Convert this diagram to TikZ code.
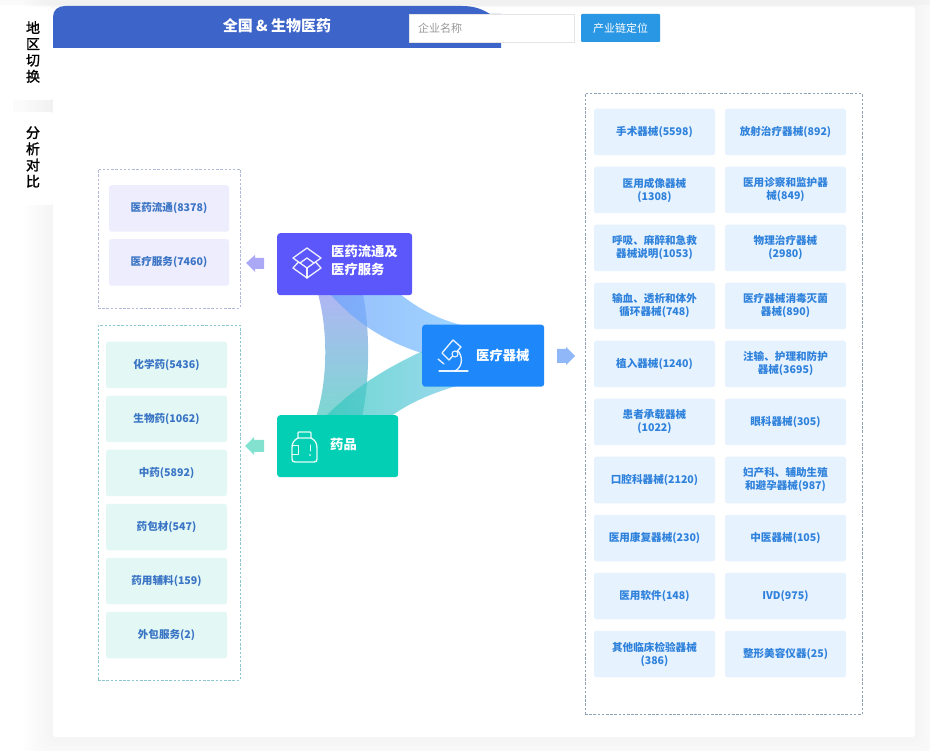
\documentclass[tikz,border=0pt]{standalone}
\usepackage{fontspec}
\setmainfont{Noto Sans CJK SC}
\newfontfamily\tabfont[FakeBold=1.5]{Noto Sans CJK SC}
\usetikzlibrary{calc}
\definecolor{hdr}{HTML}{3D64C8}
\definecolor{btn}{HTML}{2A97E4}
\definecolor{purp}{HTML}{5B57FB}
\definecolor{blu}{HTML}{1E88FB}
\definecolor{grn}{HTML}{02CFB3}
\definecolor{cpurp}{HTML}{EEEDFD}
\definecolor{cgrn}{HTML}{E3F8F5}
\definecolor{cblu}{HTML}{E6F2FE}
\definecolor{tblu}{HTML}{2F82DC}
\definecolor{tdark}{HTML}{3A74C4}
\definecolor{ribA}{HTML}{8F98F0}
\definecolor{ribM}{HTML}{6CB0E4}
\definecolor{ribB}{HTML}{45C8BE}
\definecolor{ribC}{HTML}{6AA2FC}
\definecolor{ribD}{HTML}{78C4FF}
\definecolor{ribE}{HTML}{30C8BC}
\definecolor{ribF}{HTML}{70C8E8}
\definecolor{arrP}{HTML}{ABA8F5}
\definecolor{arrG}{HTML}{82E2CF}
\definecolor{arrB}{HTML}{90B8F8}
\definecolor{dashP}{HTML}{B4B8D8}
\definecolor{dashG}{HTML}{8CC8D0}
\definecolor{dashR}{HTML}{8FA3B8}
\tikzset{
  x=1pt,y=-1pt,
  card/.style={rounded corners=2.5pt,minimum width=121pt,minimum height=46.5pt,inner sep=0pt,align=center,
    font=\fontsize{10.6}{13}\selectfont\bfseries,text=tblu},
  rcard/.style={card,fill=cblu},
  pcard/.style={card,fill=cpurp,text=tdark,minimum width=120pt},
  gcard/.style={card,fill=cgrn,text=tdark},
  main/.style={rounded corners=3pt,inner sep=0pt,anchor=north west},
  lbl/.style={text=white,font=\fontsize{13.3}{18}\selectfont\bfseries,anchor=west,inner sep=0pt,align=left},
  dbox/.style={dashed,dash pattern=on 2.5pt off 1.7pt,line width=.7pt},
  ico/.style={draw=white,line width=1.3pt,line join=round,line cap=round,opacity=.9},
  rib/.style={fill opacity=.7},
  tab/.style={font=\tabfont\fontsize{14}{16.2}\selectfont,text=black,inner sep=0pt,align=center},
}
\begin{document}
\begin{tikzpicture}
\useasboundingbox (0,0) rectangle (930,751);
\fill[white] (0,0) rectangle (930,751);
% soft shadow
\foreach \d in {3,6,...,30}{
  \fill[black,opacity=.005,rounded corners=6pt] (53-\d,7-\d) rectangle (915+\d,737+\d);
}
\fill[black,opacity=.02] (0,0) rectangle (930,5);
\fill[black,opacity=.015] (13,100) rectangle (53,112);
\fill[white,rounded corners=3pt] (53,7) rectangle (915,737);
\fill[white,rounded corners=3pt] (13,7) rectangle (53,100);
\fill[white,rounded corners=3pt] (13,112) rectangle (53,205);
\node[tab] (tabA) at (33,52) {地\\区\\切\\换};
\node[tab] (tabB) at (33,157) {分\\析\\对\\比};
% header
\fill[hdr] (53,48) -- (53,17) .. controls (53,10) and (58,6) .. (65,6) -- (462,6) .. controls (474,6) and (482,9) .. (490,14) -- (501,14) -- (501,48) -- cycle;
\node[text=white,font=\fontsize{15}{16}\selectfont\bfseries,inner sep=0pt] (title) at (277,26) {全国 \& 生物医药};
\node[draw=black!10,fill=white,line width=.5pt,minimum width=165pt,minimum height=28pt,inner sep=0pt] (search) at (491.5,28) {};
\node[text=black!40,font=\fontsize{11}{13}\selectfont,anchor=west,inner sep=0pt] (ph) at (418,28) {企业名称};
\node[fill=btn,rounded corners=1pt,minimum width=79pt,minimum height=28pt,inner sep=0pt,text=white,font=\fontsize{11}{13}\selectfont] (locate) at (620.5,28) {产业链定位};
% dashed boxes
\node[draw=dashP,dbox,minimum width=142pt,minimum height=139pt,inner sep=0pt] (boxP) at (169,238.5) {};
\node[draw=dashG,dbox,minimum width=142pt,minimum height=355pt,inner sep=0pt] (boxG) at (169,502.5) {};
\node[draw=dashR,dbox,minimum width=277pt,minimum height=621pt,inner sep=0pt] (boxR) at (723.5,404) {};
% ribbons
\path[rib,top color=ribA,middle color=ribM,bottom color=ribB] (318,294) .. controls (328,330) and (328,380) .. (316,417) -- (362,417) .. controls (370,380) and (370,330) .. (363,294) -- cycle;
\path[rib,left color=ribC,right color=ribD] (330,294) .. controls (350,316) and (378,340) .. (425,354) -- (465,326) .. controls (440,320) and (420,310) .. (400,294) -- cycle;
\path[rib,left color=ribE,right color=ribF] (325,417) .. controls (350,392) and (379,371) .. (425,350) -- (460,385) .. controls (435,392) and (410,402) .. (390,417) -- cycle;
% main nodes
\node[main,fill=purp,minimum width=135pt,minimum height=62pt] (nP) at (277,233) {};
\node[main,fill=blu,minimum width=122pt,minimum height=62pt] (nB) at (422,324.5) {};
\node[main,fill=grn,minimum width=121pt,minimum height=62pt] (nG) at (277,415) {};
\node[lbl] (lP) at (331,260) {医药流通及\\医疗服务};
\node[lbl] (lB) at (476,355) {医疗器械};
\node[lbl] (lG) at (330,444) {药品};
% cube icon
\draw[ico] (307,248)--(321,258)--(307,268)--(293,258)--cycle;
\draw[ico] (298.5,262)--(293,268)--(307,278)--(321,268)--(315.5,262);
\draw[ico] (300,263)--(307,258)--(314,263);
\draw[ico] (307,268)--(307,278);
% microscope icon
\draw[ico] (439,371)--(468,371);
\draw[ico] (453,340)--(461,347)--(449,360)--(442,353)--cycle;
\draw[ico] (458,351) .. controls (462,355) and (464,366) .. (455,371);
\draw[ico] (438,359)--(444,364);
\fill[blu] (455,354) circle (3pt);
\draw[ico,line width=1.1pt] (455,354) circle (3pt);
% bottle icon
\draw[ico] (298,438)--(298,433) .. controls (298,432) and (299,432) .. (300,432) -- (310,432) .. controls (311,432) and (311,433) .. (311,434) -- (311,438);
\draw[ico] (298,438) .. controls (294,440) and (292,443) .. (292,448) -- (292,459) .. controls (292,461) and (293,462) .. (295,462) -- (314,462) .. controls (316,462) and (317,461) .. (317,459) -- (317,448) .. controls (317,443) and (315,440) .. (311,438) -- cycle;
\draw[ico,line width=1pt] (292,446)--(298,446)--(298,455)--(292,455);
\draw[ico,line width=1pt] (310,445)--(310,451);
\fill[white] (310,455) circle (.8pt);
% small arrows
\fill[arrP] (246,263)--(255,255)--(255,258)--(264,258)--(264,269)--(255,269)--(255,272)--cycle;
\fill[arrG] (245,446)--(254,437)--(254,440)--(264,440)--(264,452)--(254,452)--(254,455)--cycle;
\fill[arrB] (575,356)--(566,347)--(566,349)--(557,349)--(557,363)--(566,363)--(566,365)--cycle;
% left cards
\node[pcard] (p1) at (169,208.5) {医药流通(8378)};
\node[pcard] (p2) at (169,262.5) {医疗服务(7460)};
\node[gcard] (g1) at (166.5,365) {化学药(5436)};
\node[gcard] (g2) at (166.5,419) {生物药(1062)};
\node[gcard] (g3) at (166.5,473) {中药(5892)};
\node[gcard] (g4) at (166.5,527) {药包材(547)};
\node[gcard] (g5) at (166.5,581) {药用辅料(159)};
\node[gcard] (g6) at (166.5,635) {外包服务(2)};
% right cards
\node[rcard] (r1) at (654.5,132) {手术器械(5598)};
\node[rcard] (r2) at (785.5,132) {放射治疗器械(892)};
\node[rcard] (r3) at (654.5,190) {医用成像器械\\(1308)};
\node[rcard] (r4) at (785.5,190) {医用诊察和监护器\\械(849)};
\node[rcard] (r5) at (654.5,248) {呼吸、麻醉和急救\\器械说明(1053)};
\node[rcard] (r6) at (785.5,248) {物理治疗器械\\(2980)};
\node[rcard] (r7) at (654.5,306) {输血、透析和体外\\循环器械(748)};
\node[rcard] (r8) at (785.5,306) {医疗器械消毒灭菌\\器械(890)};
\node[rcard] (r9) at (654.5,364) {植入器械(1240)};
\node[rcard] (r10) at (785.5,364) {注输、护理和防护\\器械(3695)};
\node[rcard] (r11) at (654.5,422) {患者承载器械\\(1022)};
\node[rcard] (r12) at (785.5,422) {眼科器械(305)};
\node[rcard] (r13) at (654.5,480) {口腔科器械(2120)};
\node[rcard] (r14) at (785.5,480) {妇产科、辅助生殖\\和避孕器械(987)};
\node[rcard] (r15) at (654.5,538) {医用康复器械(230)};
\node[rcard] (r16) at (785.5,538) {中医器械(105)};
\node[rcard] (r17) at (654.5,596) {医用软件(148)};
\node[rcard] (r18) at (785.5,596) {IVD(975)};
\node[rcard] (r19) at (654.5,654) {其他临床检验器械\\(386)};
\node[rcard] (r20) at (785.5,654) {整形美容仪器(25)};
\end{tikzpicture}
\end{document}
